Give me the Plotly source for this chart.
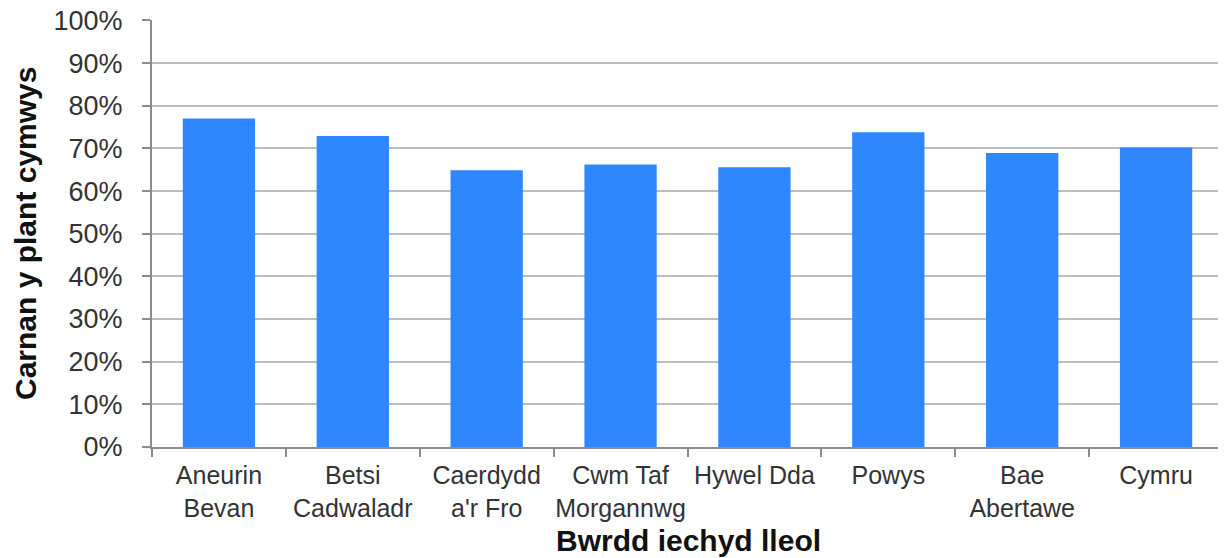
import plotly.graph_objects as go

categories = ["Aneurin<br>Bevan", "Betsi<br>Cadwaladr", "Caerdydd<br>a'r Fro", "Cwm Taf<br>Morgannwg",
              "Hywel Dda", "Powys", "Bae<br>Abertawe", "Cymru"]
values = [0.770, 0.729, 0.649, 0.662, 0.656, 0.738, 0.689, 0.702]
y_ticks = [i / 10 for i in range(11)]
y_tick_labels = [f"{i * 10}%" for i in range(11)]
x_title = "Bwrdd iechyd lleol"
y_title = "Carnan y plant cymwys"

fig = go.Figure(go.Bar(x=categories, y=values, marker=dict(color="#2e87fd", line=dict(width=0)), width=0.54))

font_family = "Liberation Sans, Arial, sans-serif"
W, H = 1226, 558
ml, mr, mt, mb = 144, 11, 12, 119
pw, ph = W - ml - mr, H - mt - mb
fig.update_layout(
    width=W, height=H,
    margin=dict(l=ml, r=mr, t=mt, b=mb, autoexpand=False),
    paper_bgcolor="white", plot_bgcolor="white",
    showlegend=False,
    font=dict(family=font_family),
)
fig.update_xaxes(
    type="category",
    tickson="boundaries",
    tickangle=0,
    automargin=False,
    ticks="outside", ticklen=8, tickcolor="#8c8c8c", tickwidth=2,
    ticklabelstandoff=5,
    ticklabeloverflow="allow",
    showline=True, linecolor="#8c8c8c", linewidth=2,
    tickfont=dict(size=25, color="#333333"),
    showgrid=False,
)
fig.update_yaxes(
    range=[0, 1.001],
    automargin=False,
    tickvals=y_ticks, ticktext=y_tick_labels,
    ticks="outside", ticklen=8, tickcolor="#8c8c8c", tickwidth=2,
    ticklabelstandoff=14,
    ticklabeloverflow="allow",
    showline=True, linecolor="#8c8c8c", linewidth=2,
    showgrid=True, gridcolor="#bdbdbd", gridwidth=2,
    tickfont=dict(size=27, color="#333333"),
    zeroline=False,
)
fig.add_annotation(text=f"<b>{x_title}</b>", xref="paper", yref="paper",
                   x=(680 - ml) / pw, y=((mt + ph) - 532) / ph,
                   showarrow=False, xanchor="center", yanchor="middle",
                   font=dict(size=30, color="#111111"))
fig.add_annotation(text=f"<b>{y_title}</b>", xref="paper", yref="paper",
                   x=(17 - ml) / pw, y=((mt + ph) - 226) / ph,
                   showarrow=False, xanchor="center", yanchor="middle", textangle=-90,
                   font=dict(size=30, color="#111111"))

fig.write_html("out.html")
